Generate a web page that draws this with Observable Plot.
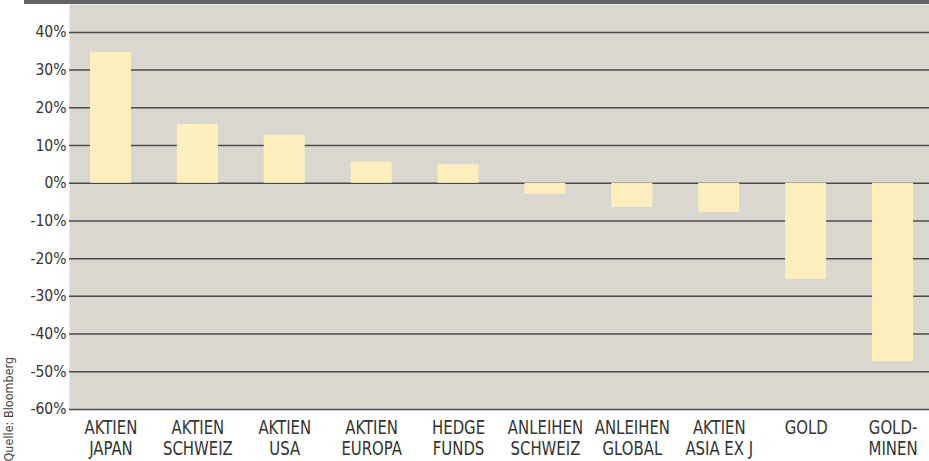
<!DOCTYPE html>
<html>
<head>
<meta charset="utf-8">
<script src="https://cdn.jsdelivr.net/npm/d3@7"></script>
<script src="https://cdn.jsdelivr.net/npm/@observablehq/plot@0.6"></script>
<style>
  html, body { margin: 0; padding: 0; background: #ffffff; }
  #wrap { position: relative; width: 929px; height: 461px; overflow: hidden; }
  #topbar { position: absolute; left: 24px; top: 0; width: 905px; height: 4px; background: #636367; }
  #wrap svg { display: block; background: linear-gradient(to right, #ffffff 24px, #fdf9ea 24px); }
</style>
</head>
<body>
<div id="wrap"><div id="topbar"></div></div>
<script>
const categories = [
  "AKTIEN\nJAPAN", "AKTIEN\nSCHWEIZ", "AKTIEN\nUSA", "AKTIEN\nEUROPA", "HEDGE\nFUNDS",
  "ANLEIHEN\nSCHWEIZ", "ANLEIHEN\nGLOBAL", "AKTIEN\nASIA EX J", "GOLD", "GOLD-\nMINEN"
];
const values = [34.7, 15.6, 12.7, 5.65, 4.9, -2.9, -6.4, -7.7, -25.5, -47.3];
const yTicks = [-60, -50, -40, -30, -20, -10, 0, 10, 20, 30, 40];
const caption = "Quelle: Bloomberg";

const data = categories.map((c, i) => ({cat: c, value: values[i]}));
const font = "'Liberation Sans Narrow', 'DejaVu Sans Condensed', 'Arial Narrow', sans-serif";

const chart = Plot.plot({
  width: 929,
  height: 461,
  marginLeft: 69,
  marginRight: 0,
  marginTop: 4,
  marginBottom: 52,
  style: {fontFamily: font, fontSize: "16px", color: "#333333", background: "transparent", overflow: "visible"},
  x: {domain: categories, range: [67, 936], paddingInner: 0.528, paddingOuter: 0.264, round: false},
  y: {domain: [-60, 47.4]},
  marks: [
    Plot.frame({fill: "#dad7d0", stroke: null}),
    Plot.ruleY(yTicks, {stroke: "#4a4a4a", strokeWidth: 1.5}),
    Plot.barY(data, {x: "cat", y: "value", fill: "#fdefbd"}),
    Plot.axisY({ticks: yTicks, tickFormat: d => d + "%", tickSize: 0, tickPadding: 3, label: null, fontSize: 15.5, fill: "#333"}),
    Plot.axisX({tickSize: 0, tickPadding: 8.5, label: null, fontSize: 19.5, lineHeight: 1.12, fill: "#333"}),
    Plot.text([caption], {frameAnchor: "bottom-left", dx: -57, dy: 52, rotate: -90, textAnchor: "start", fontSize: 12.5, fill: "#444"})
  ]
});
// horizontally condense the category labels, like the reference's narrow typeface
chart.querySelectorAll('g[aria-label="x-axis tick label"] text').forEach(t => {
  const tr = t.getAttribute("transform") || "";
  t.setAttribute("transform", tr + " scale(0.85,1)");
});
document.getElementById("wrap").appendChild(chart);
</script>
</body>
</html>
